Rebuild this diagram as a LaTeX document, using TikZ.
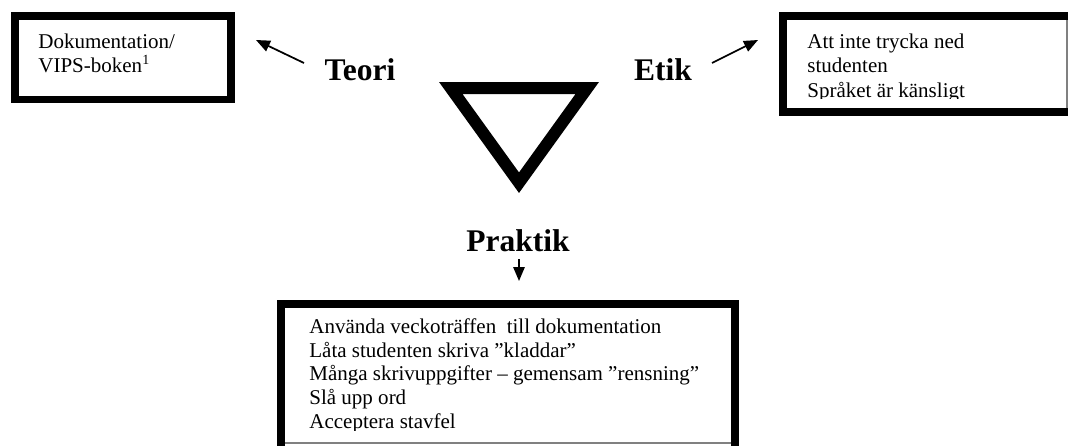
\documentclass[tikz,border=0pt]{standalone}
\usepackage{fontspec}
\setmainfont{Liberation Serif}
\usetikzlibrary{arrows.meta}
\begin{document}
\begin{tikzpicture}[x=0.571pt, y=-0.571pt,
  frame/.style={draw=black, line width=4.3pt, fill=white},
  edge/.style={draw=black!50, line width=0.6pt},
  boxtext/.style={anchor=base west, inner sep=0pt, font=\fontsize{12}{14}\selectfont},
  heading/.style={anchor=base, inner sep=0pt, font=\fontsize{18}{21}\selectfont\bfseries},
  pointer/.style={-{Triangle[length=8pt,width=6.5pt]}, line width=1pt},
]
\clip (0,0) rectangle (1068,445);

% framed boxes
\path[frame] (15,16) rectangle (231,99.5);
\path[frame] (783,16) rectangle (1090,112);
\path[frame] (281,304) rectangle (735,470);
\draw[edge] (1067,20) -- (1067,108);
\draw[edge] (285,443) -- (731,443);

% box contents
\node[boxtext] (doktext) at (38,48)
  {\parbox[t]{200pt}{Dokumentation/\\VIPS-boken\textsuperscript{1}}};
\begin{scope}
  \clip (787,20) rectangle (1067,98.5);
  \node[boxtext] (etiktext) at (807,48)
    {\parbox[t]{200pt}{Att inte trycka ned\\studenten\\Språket är känsligt}};
\end{scope}
\begin{scope}
  \clip (285,308) rectangle (731,430);
  \node[boxtext, font=\fontsize{12}{13.7}\selectfont] (praktiktext) at (309,333)
    {\parbox[t]{300pt}{Använda veckoträffen\ \ till dokumentation\\
      Låta studenten skriva ”kladdar”\\
      Många skrivuppgifter – gemensam ”rensning”\\
      Slå upp ord\\
      Acceptera stavfel}};
\end{scope}

% triangle
\draw[line width=6.85pt, line join=miter] (450.75,88) -- (587.25,88) -- (519,182.7) -- cycle;

% headings
\node[heading] (teori) at (360,80) {Teori};
\node[heading] (etik) at (663,80) {Etik};
\node[heading] (praktik) at (518,251) {Praktik};

% pointers
\coordinate (teoritail) at (304,63);
\coordinate (teoritip) at (256,40);
\coordinate (etiktail) at (712,63);
\coordinate (etiktip) at (758,40);
\coordinate (praktiktail) at (519,259);
\coordinate (praktiktip) at (519,281);
\draw[pointer] (teoritail) -- (teoritip);
\draw[pointer] (etiktail) -- (etiktip);
\draw[pointer] (praktiktail) -- (praktiktip);
\end{tikzpicture}
\end{document}
